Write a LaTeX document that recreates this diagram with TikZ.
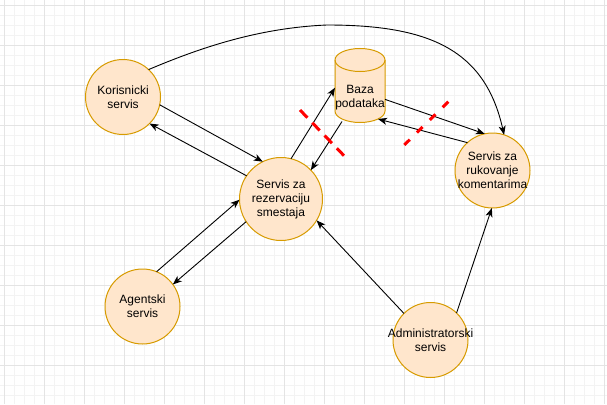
\documentclass[tikz,border=0pt]{standalone}
\usepackage{fontspec}
\setmainfont{Liberation Sans}
\usepackage{xcolor}
\usetikzlibrary{arrows.meta}

\definecolor{svcfill}{HTML}{FFE6CC}
\definecolor{svcline}{HTML}{D79B00}
\definecolor{gridmajor}{HTML}{E4E4E4}
\definecolor{gridminor}{HTML}{F3F3F3}

\begin{document}
\begin{tikzpicture}[x=1pt,y=-1pt,
  svc/.style={circle,draw=svcline,fill=svcfill,line width=1pt,minimum size=75pt,inner sep=0pt,outer sep=0pt,
    label={[align=center,font=\fontsize{12}{14}\selectfont]center:{#1}}},
  dbbox/.style={rectangle,minimum width=50pt,minimum height=74pt,inner sep=0pt,outer sep=0pt},
  link/.style={-{Stealth[length=9pt,width=7pt,inset=2.5pt]},line width=0.9pt},
  cut/.style={red,line width=3pt,dash pattern=#1}]
\useasboundingbox (0,0) rectangle (607,404);
\fill[white] (0,0) rectangle (607,404);
% background grid
\foreach \x in {4,14,...,604}
\draw[gridminor,line width=0.8pt] (\x,0) -- (\x,404);
\foreach \y in {5,15,...,395}
\draw[gridminor,line width=0.8pt] (0,\y) -- (607,\y);
\foreach \x in {4,44,...,604}
\draw[gridmajor,line width=0.8pt] (\x,0) -- (\x,404);
\foreach \y in {5,45,...,365}
\draw[gridmajor,line width=0.8pt] (0,\y) -- (607,\y);

% database drum
\filldraw[draw=svcline,fill=svcfill,line width=1pt] (335,60) -- (335,111)
  arc[start angle=180,end angle=360,x radius=25pt,y radius=11.5pt] -- (385,60)
  arc[start angle=0,end angle=180,x radius=25pt,y radius=11.5pt] -- cycle;
\draw[svcline,line width=1pt] (335,60) arc[start angle=180,end angle=360,x radius=25pt,y radius=11.5pt];

% services
\node[svc={Korisnicki\\servis}] (kor) at (123,97) {};
\node[svc={Servis za\\rezervaciju\\smestaja},minimum size=83pt] (rez) at (281,199) {};
\node[svc={Agentski\\servis}] (agt) at (142.5,306.5) {};
\node[svc={Servis za\\rukovanje\\komentarima}] (ruk) at (492.5,170.5) {};
\node[svc={Administratorski\\servis}] (adm) at (430.5,340) {};
\node[dbbox,label={[align=center,yshift=-12pt,font=\fontsize{12}{14}\selectfont]center:{Baza\\podataka}}] (baza) at (360,85.5) {};

% links
\draw[link] (kor.348) -- (rez.116.6);
\draw[link] (rez.146) -- (kor.315);
\draw[link] (rez.76) -- (baza.185);
\draw[link] ([xshift=-18pt,yshift=1pt]baza.south) -- (rez.44);
\draw[link] (baza.331) -- (ruk.102.5);
\draw[link] (ruk.132) -- ([xshift=18pt,yshift=3.5pt]baza.south);
\draw[link] (agt.68.6) -- (rez.181);
\draw[link] (rez.213) -- (agt.36);
\draw[link] (adm.135.5) -- (rez.329);
\draw[link] (adm.46.6) -- (ruk.269);
\draw[link] (kor.47) .. controls (195,50) and (255,28) .. (327,25)
  .. controls (430,25) and (485,50) .. (ruk.72);

% cut marks
\draw[cut={on 10.7pt off 7pt}] (300,110) -- (344,155.7);
\draw[cut={on 8pt off 10pt}] (448.3,101.7) -- (404.3,145);
\end{tikzpicture}
\end{document}
